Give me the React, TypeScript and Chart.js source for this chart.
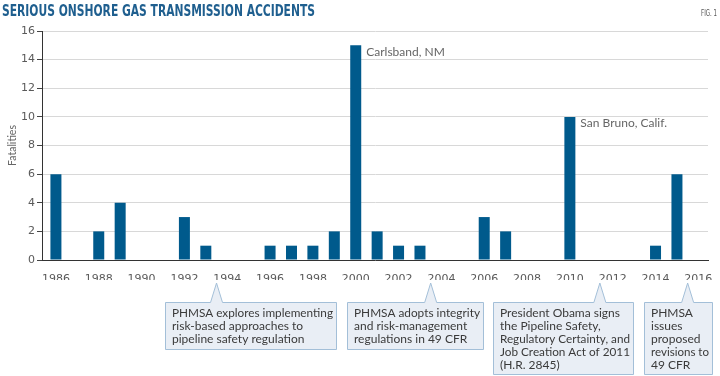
import React, { useEffect, useRef } from "react";
import { Chart, registerables } from "chart.js";

Chart.register(...registerables);

const years = [1986, 1987, 1988, 1989, 1990, 1991, 1992, 1993, 1994, 1995, 1996, 1997, 1998, 1999, 2000, 2001, 2002, 2003, 2004, 2005, 2006, 2007, 2008, 2009, 2010, 2011, 2012, 2013, 2014, 2015, 2016];
const fatalities = [6, 0, 2, 4, 0, 0, 3, 1, 0, 0, 1, 1, 1, 2, 15, 2, 1, 1, 0, 0, 3, 2, 0, 0, 10, 0, 0, 0, 1, 6, 0];

const titleText = "SERIOUS ONSHORE GAS TRANSMISSION ACCIDENTS";
const figText = "FIG. 1";
const yAxisTitle = "Fatalities";

const barLabelYears = [2000, 2010];
const barLabelTexts = ["Carlsband, NM", "San Bruno, Calif."];

const calloutYears = [1993.5, 2003.5, 2011.4, 2015.5];
const calloutLines = [
  ["PHMSA explores implementing", "risk-based approaches to", "pipeline safety regulation"],
  ["PHMSA adopts integrity", "and risk-management", "regulations in 49 CFR"],
  ["President Obama signs", "the Pipeline Safety,", "Regulatory Certainty, and", "Job Creation Act of 2011", "(H.R. 2845)"],
  ["PHMSA", "issues", "proposed", "revisions to", "49 CFR"],
];

// box layout (style only)
const boxLefts = [165, 347, 493, 644];
const boxWidths = [171, 136, 140, 68];
const boxHeights = [47, 47, 72, 72];
const boxTop = 302;
const tipY = 283;

const BAR_COLOR = "#005a8c";

const overlayPlugin = {
  id: "overlay",
  afterDraw(chart: any) {
    const ctx = chart.ctx;
    const xs = chart.scales.x;
    ctx.save();

    // Title
    ctx.fillStyle = "#1f5f8f";
    ctx.font = 'bold 16px "DejaVu Sans Condensed", "Liberation Sans Narrow", sans-serif';
    ctx.textBaseline = "alphabetic";
    ctx.textAlign = "left";
    ctx.fillText(titleText, 2, 16, 313);

    // Fig label
    ctx.fillStyle = "#555";
    ctx.font = '8px "DejaVu Sans Condensed", "Liberation Sans Narrow", sans-serif';
    ctx.textAlign = "right";
    ctx.fillText(figText, 717, 16, 16);

    // Bar labels
    const meta = chart.getDatasetMeta(0);
    ctx.font = '12px Lato, "Open Sans", sans-serif';
    ctx.fillStyle = "#666";
    ctx.textAlign = "left";
    ctx.textBaseline = "middle";
    barLabelYears.forEach((yr, i) => {
      const idx = years.indexOf(yr);
      const el = meta.data[idx];
      if (!el) return;
      ctx.fillText(barLabelTexts[i], el.x + el.width / 2 + 5, el.y + 6.5);
    });

    // Callouts
    calloutYears.forEach((yr, i) => {
      const tx = xs.getPixelForValue(yr);
      const L = boxLefts[i];
      const W = boxWidths[i];
      const H = boxHeights[i];
      const T = boxTop;
      ctx.beginPath();
      ctx.moveTo(L + 0.5, T + 0.5);
      ctx.lineTo(tx - 6, T + 0.5);
      ctx.lineTo(tx, tipY);
      ctx.lineTo(tx + 6, T + 0.5);
      ctx.lineTo(L + W + 0.5, T + 0.5);
      ctx.lineTo(L + W + 0.5, T + H + 0.5);
      ctx.lineTo(L + 0.5, T + H + 0.5);
      ctx.closePath();
      ctx.fillStyle = "#e9eef5";
      ctx.fill();
      ctx.strokeStyle = "#a3bfd8";
      ctx.lineWidth = 1;
      ctx.stroke();

      ctx.fillStyle = "#3a3a3a";
      ctx.font = '12px Lato, "Open Sans", sans-serif';
      ctx.textAlign = "left";
      ctx.textBaseline = "middle";
      calloutLines[i].forEach((line, k) => {
        ctx.fillText(line, L + 7, T + 11 + k * 13, W - 10);
      });
    });

    ctx.restore();
  },
};

export default function App() {
  const canvasRef = useRef<HTMLCanvasElement | null>(null);

  useEffect(() => {
    document.body.style.margin = "0";
    const canvas = canvasRef.current;
    if (!canvas) return;
    const chart = new Chart(canvas, {
      type: "bar",
      data: {
        datasets: [
          {
            label: yAxisTitle,
            data: years.map((y, i) => ({ x: y, y: fatalities[i] === 0 ? null : fatalities[i] })),
            backgroundColor: BAR_COLOR,
            borderWidth: 0,
            inflateAmount: 0,
            barThickness: 11,
          },
        ],
      },
      plugins: [overlayPlugin],
      options: {
        animation: false,
        responsive: false,
        maintainAspectRatio: false,
        layout: { padding: { left: 0, top: 31, right: 12, bottom: 96 } },
        plugins: {
          legend: { display: false },
          tooltip: { enabled: false },
          title: { display: false },
        },
        scales: {
          x: {
            type: "linear",
            min: 1985.35,
            max: 2016.45,
            offset: false,
            grid: { display: false },
            border: { display: true, color: "#333", width: 1 },
            ticks: {
              stepSize: 2,
              includeBounds: false,
              autoSkip: false,
              maxRotation: 0,
              padding: 5,
              color: "#5a5a5a",
              font: { family: '"DejaVu Sans", sans-serif', size: 11 },
              callback: (v: any) => String(v),
            },
            afterFit: (scale: any) => {
              scale.height = 20;
            },
          },
          y: {
            min: 0,
            max: 16,
            grid: {
              color: "#d8d8d8",
              lineWidth: 1,
              drawTicks: true,
              tickLength: 5,
              tickColor: "#444",
            },
            border: { display: true, color: "#333", width: 1 },
            ticks: {
              stepSize: 2,
              padding: 2,
              color: "#5a5a5a",
              font: { family: '"DejaVu Sans", sans-serif', size: 11 },
            },
            title: {
              display: true,
              text: yAxisTitle,
              color: "#666",
              font: { family: 'Lato, "Open Sans", sans-serif', size: 10.5 },
              padding: { top: 6, bottom: 0 },
            },
            afterFit: (scale: any) => {
              scale.width = 42;
            },
          },
        },
      },
    });
    return () => chart.destroy();
  }, []);

  return (
    <div style={{ width: 720, height: 376, position: "relative", background: "#fff" }}>
      <canvas ref={canvasRef} width={720} height={376} style={{ display: "block" }} />
    </div>
  );
}
